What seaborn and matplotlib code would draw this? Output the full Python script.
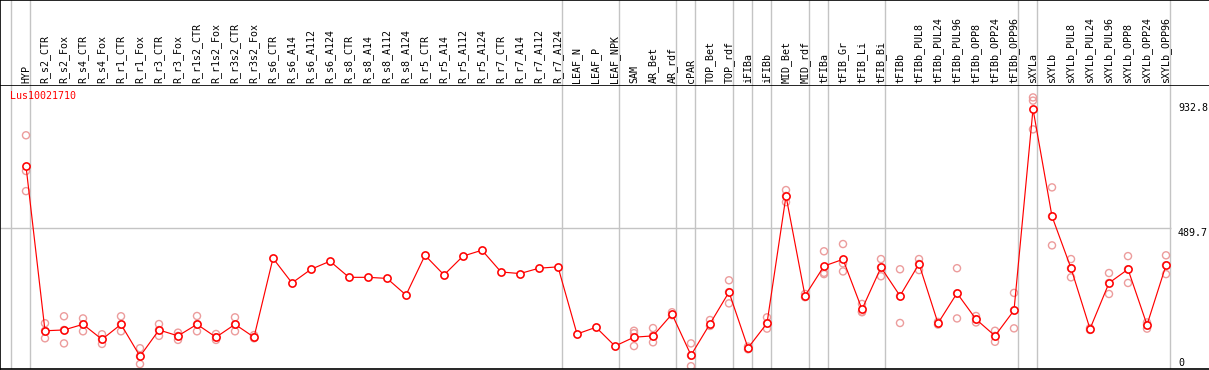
import numpy as np
import pandas as pd
import matplotlib
matplotlib.use("Agg")
import matplotlib.pyplot as plt
import seaborn as sns

# sample names in display order
samples = [
    "HYP",
    "R_s2_CTR", "R_s2_Fox", "R_s4_CTR", "R_s4_Fox", "R_r1_CTR", "R_r1_Fox",
    "R_r3_CTR", "R_r3_Fox", "R_r1s2_CTR", "R_r1s2_Fox", "R_r3s2_CTR", "R_r3s2_Fox",
    "R_s6_CTR", "R_s6_A14", "R_s6_A112", "R_s6_A124", "R_s8_CTR", "R_s8_A14",
    "R_s8_A112", "R_s8_A124", "R_r5_CTR", "R_r5_A14", "R_r5_A112", "R_r5_A124",
    "R_r7_CTR", "R_r7_A14", "R_r7_A112", "R_r7_A124",
    "LEAF_N", "LEAF_P", "LEAF_NPK",
    "SAM", "AR_Bet", "AR_rdf",
    "cPAR",
    "TOP_Bet", "TOP_rdf",
    "iFIBa",
    "iFIBb",
    "MID_Bet", "MID_rdf",
    "tFIBa",
    "tFIB_Gr", "tFIB_Li", "tFIB_Bi",
    "tFIBb", "tFIBb_PUL8", "tFIBb_PUL24", "tFIBb_PUL96", "tFIBb_OPP8", "tFIBb_OPP24", "tFIBb_OPP96",
    "sXYLa",
    "sXYLb", "sXYLb_PUL8", "sXYLb_PUL24", "sXYLb_PUL96", "sXYLb_OPP8", "sXYLb_OPP24", "sXYLb_OPP96",
]

# number of samples in each tissue group (separated by grey lines)
group_sizes = [1, 28, 3, 3, 1, 2, 1, 1, 2, 1, 3, 7, 1, 7]

# mean expression per sample
means = [
    720,
    107, 110, 131, 75, 131, 12, 110, 88, 131, 83, 131, 83,
    377, 285, 336, 366, 306, 306, 302, 240, 388, 315, 385, 407,
    326, 320, 340, 345,
    95, 120, 50,
    83, 88, 169,
    16,
    133, 251,
    43,
    135,
    609, 237,
    348,
    373, 187, 343,
    237, 356, 135, 247, 150, 88, 183,
    932.8,
    533, 340, 114, 285, 336, 129, 351,
]

# individual replicates (empty where hidden under the mean marker)
replicates = [
    [835, 702, 627],
    [135, 107, 79], [161, 110, 60], [153, 131, 105], [94, 75, 58],
    [161, 131, 105], [42, 12, -17], [132, 110, 88], [100, 88, 73],
    [162, 131, 105], [95, 83, 73], [157, 131, 105], [91, 83, 79],
    [], [], [], [], [], [], [], [], [], [], [], [], [], [], [], [],
    [], [], [],
    [107, 98, 50], [117, 88, 64], [176, 165],
    [60, 15, -25],
    [147, 125], [295, 251, 209],
    [48, 38],
    [157, 135, 115],
    [631, 609, 586], [244, 232],
    [403, 323, 318],
    [430, 358, 328], [207, 178, 176], [374, 343, 310],
    [336, 236, 136], [374, 356, 333], [140, 130], [340, 246, 153],
    [162, 150, 138], [107, 88, 66], [248, 183, 116],
    [976, 964, 857],
    [641, 533, 425], [374, 340, 306], [117, 110], [322, 285, 244],
    [385, 336, 285], [138, 129, 115], [388, 351, 318],
]

y_ticks = [932.8, 489.7, 0]
gene_id = "Lus10021710"

# build tables
pos = np.arange(len(samples))
mean_df = pd.DataFrame({"pos": pos, "sample": samples, "value": means})
rep_rows = []
for i, reps in enumerate(replicates):
    for v in reps:
        rep_rows.append({"pos": i, "value": v})
rep_df = pd.DataFrame(rep_rows)

sns.set_style("white")
plt.rcParams["font.family"] = ["DejaVu Sans Mono", "DejaVu Sans"]

W, H = 1209, 370
fig = plt.figure(figsize=(W / 100, H / 100), dpi=100)

# pixel mapping: x = 26 + 19 * index
x0, dx = 26, 19
xlim = ((0 - x0) / dx, (W - x0) / dx)


def px2x(px):
    return (px - x0) / dx


header_h = 85
ax = fig.add_axes([0, 1 / H, 1, (H - header_h - 1) / H])
hx = fig.add_axes([0, (H - header_h) / H, 1, header_h / H])

# y mapping: value = (359.5 - ypx) * 3.724
ax.set_ylim((359.5 - 369) * 3.724, (359.5 - header_h) * 3.724)
ax.set_xlim(*xlim)
hx.set_xlim(*xlim)
hx.set_ylim(0, header_h)

grey = "#c4c4c4"
# group separators
bounds = np.cumsum(group_sizes) - 1 + 0.23
seps = [-0.77] + list(bounds)
for s in seps:
    ax.axvline(s, color=grey, lw=1, zorder=1)
    hx.axvline(s, color=grey, lw=1, zorder=1)

ax.hlines(y_ticks[1], xlim[0], px2x(1170.5), color=grey, lw=1, zorder=1)

sns.scatterplot(data=rep_df, x="pos", y="value", ax=ax, marker="o", s=26,
                facecolor="none", edgecolor="#ec9c9c", linewidth=1.0,
                zorder=2, legend=False)
sns.lineplot(data=mean_df, x="pos", y="value", ax=ax, color="#ff0000", lw=0.85,
             marker="o", markersize=5.2, markerfacecolor="white",
             markeredgecolor="#ff0000", markeredgewidth=1.15, zorder=3)

# header labels
for i, name in enumerate(samples):
    hx.text(i, 2, name, rotation=90, ha="center", va="bottom", fontsize=7.2, color="black")

# gene id and value labels
ax.text(px2x(10), 1000, gene_id, color="#ff0000", fontsize=7.2, ha="left", va="top")
label_y = [955, 489.7, 5]
for t, ly in zip(y_ticks, label_y):
    ax.text(px2x(1178), ly, f"{t:g}", fontsize=7.2, ha="left", va="top", color="black")

for a in (ax, hx):
    a.set_xticks([])
    a.set_yticks([])
    a.set_xlabel("")
    a.set_ylabel("")
    a.set_facecolor("white")
    for sp in a.spines.values():
        sp.set_color("black")
        sp.set_linewidth(1.2)
    a.spines["right"].set_visible(False)
hx.spines["bottom"].set_visible(False)

fig.savefig("out.png", dpi=100, facecolor="white")
